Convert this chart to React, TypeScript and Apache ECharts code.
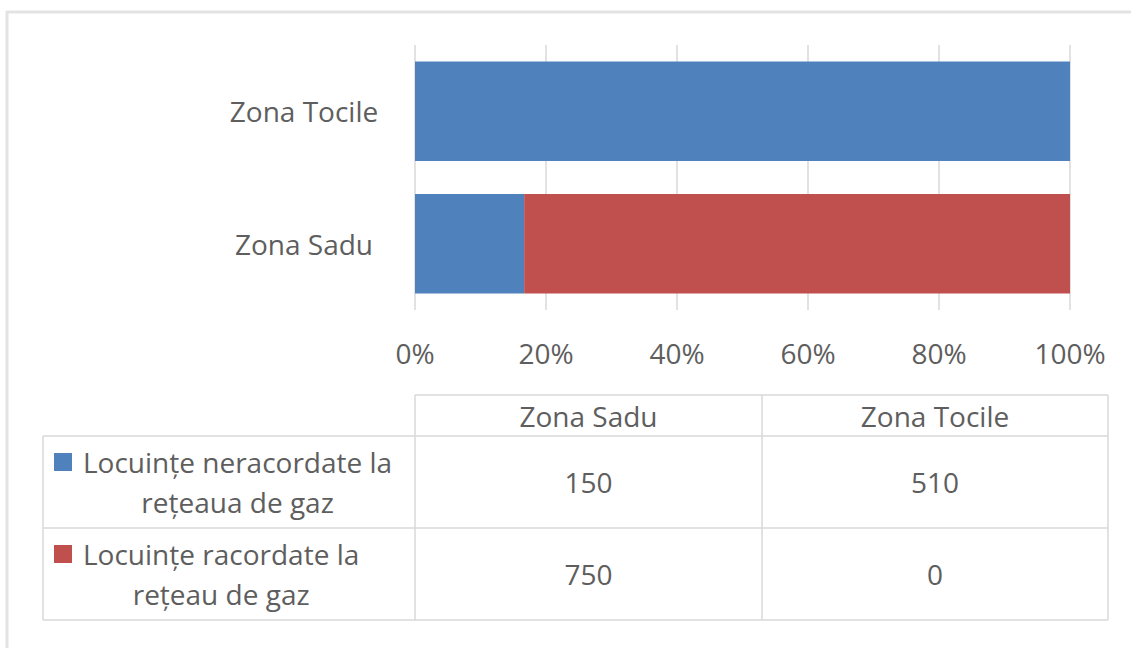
import React, { useEffect, useRef } from "react";
import * as echarts from "echarts";

// ---- data ----
const categories = ["Zona Sadu", "Zona Tocile"];
const seriesNames = [
  "Locuințe neracordate la rețeaua de gaz",
  "Locuințe racordate la rețeau de gaz",
];
const neracordate = [150, 510];
const racordate = [750, 0];
const xTicks = [0, 20, 40, 60, 80, 100];
const colors = ["#4F81BD", "#C0504D"];

// ---- style ----
const FONT = "'Open Sans', sans-serif";
const FS = 28;
const TEXT = "#5E5E5E";
const LINE = "#D9D9D9";

function measure(t: string, size: number) {
  const c = document.createElement("canvas").getContext("2d")!;
  c.font = `${size}px ${FONT}`;
  return c.measureText(t).width;
}

function wrapName(name: string): string[] {
  const idx = name.indexOf(" la ");
  return [name.slice(0, idx + 3), name.slice(idx + 4)];
}

export default function App() {
  const ref = useRef<HTMLDivElement>(null);
  useEffect(() => {
    const chart = echarts.init(ref.current!, undefined, { renderer: "svg" });
    const seriesValues = [neracordate, racordate];
    const totals = categories.map((_, i) => seriesValues.reduce((s, v) => s + v[i], 0));
    const pct = seriesValues.map((v) => v.map((x, i) => (totals[i] ? (x / totals[i]) * 100 : 0)));

    // table layout
    const tLeft = 43, tColStart = 415, tMid = 762, tRight = 1108;
    const hTop = 395, hBot = 436, r1Bot = 528, r2Bot = 620;
    const rowBounds = [[hBot, r1Bot], [r1Bot, r2Bot]];
    const colCenters = [(tColStart + tMid) / 2, (tMid + tRight) / 2];
    const lh = 40;
    const sq = 18;

    const g: any[] = [];
    g.push({
      type: "rect",
      shape: { x: 7, y: 12, width: 1200, height: 700 },
      style: { fill: "none", stroke: "#E3E3E3", lineWidth: 3 },
      silent: true,
    });
    const ln = (x1: number, y1: number, x2: number, y2: number) =>
      g.push({ type: "line", shape: { x1, y1, x2, y2 }, style: { stroke: LINE, lineWidth: 1.5 }, silent: true });
    ln(tColStart, hTop, tRight, hTop);
    ln(tLeft, hBot, tRight, hBot);
    ln(tLeft, r1Bot, tRight, r1Bot);
    ln(tLeft, r2Bot, tRight, r2Bot);
    ln(tLeft, hBot, tLeft, r2Bot);
    ln(tColStart, hTop, tColStart, r2Bot);
    ln(tMid, hTop, tMid, r2Bot);
    ln(tRight, hTop, tRight, r2Bot);

    const txt = (x: number, y: number, text: string, align = "center") =>
      g.push({
        type: "text",
        x,
        y,
        silent: true,
        style: {
          text,
          fill: TEXT,
          fontSize: FS,
          fontFamily: FONT,
          align,
          verticalAlign: "middle",
          lineHeight: lh,
        },
      });

    categories.forEach((c, i) => txt(colCenters[i], (hTop + hBot) / 2, c));
    seriesNames.forEach((name, s) => {
      const [top, bot] = rowBounds[s];
      const cy = (top + bot) / 2;
      const lines = wrapName(name);
      const w = Math.max(...lines.map((l) => measure(l, FS)));
      txt(83 + w / 2, cy, lines.join("\n"));
      g.push({
        type: "rect",
        shape: { x: 54, y: cy - lh / 2 - sq / 2, width: sq, height: sq },
        style: { fill: colors[s] },
        silent: true,
      });
      seriesValues[s].forEach((v, i) => txt(colCenters[i], cy, String(v)));
    });

    chart.setOption({
      animation: false,
      backgroundColor: "#FFFFFF",
      grid: { left: 415, right: 61, top: 45, bottom: 338, containLabel: false },
      xAxis: {
        type: "value",
        min: xTicks[0],
        max: xTicks[xTicks.length - 1],
        interval: xTicks[1] - xTicks[0],
        axisLine: { show: false },
        axisTick: { show: false },
        splitLine: { show: true, lineStyle: { color: LINE, width: 1.5 } },
        axisLabel: {
          formatter: "{value}%",
          color: TEXT,
          fontSize: FS,
          fontFamily: FONT,
          margin: 29,
        },
      },
      yAxis: {
        type: "category",
        data: categories,
        axisLine: { show: false },
        axisTick: { show: false },
        axisLabel: {
          color: TEXT,
          fontSize: FS,
          fontFamily: FONT,
          align: "center",
          margin: 111,
        },
      },
      series: seriesNames.map((name, s) => ({
        name,
        type: "bar",
        stack: "total",
        barCategoryGap: "25%",
        data: pct[s],
        itemStyle: { color: colors[s] },
      })),
      graphic: g,
    });
    return () => chart.dispose();
  }, []);
  return (
    <div
      ref={ref}
      style={{ position: "absolute", left: 0, top: 0, width: 1131, height: 648 }}
    />
  );
}
